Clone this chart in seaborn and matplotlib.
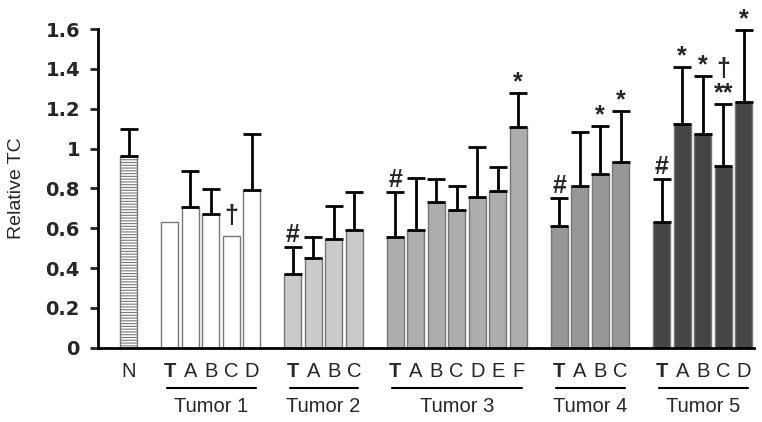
import numpy as np
import pandas as pd
import matplotlib
matplotlib.use("Agg")
import matplotlib.pyplot as plt
import matplotlib.transforms as mtransforms
import seaborn as sns

nan = np.nan

# bar letters and values
groups = ["N", "Tumor 1", "Tumor 2", "Tumor 3", "Tumor 4", "Tumor 5"]
letters = [["N"],
           ["T", "A", "B", "C", "D"],
           ["T", "A", "B", "C"],
           ["T", "A", "B", "C", "D", "E", "F"],
           ["T", "A", "B", "C"],
           ["T", "A", "B", "C", "D"]]
means = [[0.965],
         [0.630, 0.705, 0.672, 0.561, 0.791],
         [0.370, 0.452, 0.545, 0.590],
         [0.556, 0.590, 0.731, 0.690, 0.757, 0.787, 1.107],
         [0.610, 0.814, 0.871, 0.932],
         [0.632, 1.126, 1.074, 0.915, 1.233]]
sds = [[0.135],
       [nan, 0.183, 0.124, nan, 0.283],
       [0.135, 0.103, 0.169, 0.194],
       [0.226, 0.263, 0.118, 0.124, 0.253, 0.121, 0.174],
       [0.142, 0.270, 0.243, 0.257],
       [0.217, 0.286, 0.290, 0.311, 0.362]]
marks = [[""],
         ["", "", "", "\u2020", ""],
         ["#", "", "", ""],
         ["#", "", "", "", "", "", "*"],
         ["#", "", "*", "*"],
         ["#", "*", "*", "\u2020\n**", "*"]]
colors = ["white", "white", "#cacaca", "#adadad", "#979797", "#454545"]

sns.set_style("white")
plt.rcParams["font.family"] = ["Liberation Sans", "DejaVu Sans"]
plt.rcParams["hatch.linewidth"] = 0.8

# one empty slot between groups
rows = []
pos = 0
for g, let, m, s, mk in zip(groups, letters, means, sds, marks):
    for i in range(len(let)):
        rows.append({"pos": pos, "group": g, "letter": let[i], "mean": m[i],
                     "sd": s[i], "mark": mk[i]})
        pos += 1
    pos += 1
df = pd.DataFrame(rows)

fig = plt.figure(figsize=(7.62, 4.22), dpi=100)
ax = fig.add_axes([0.1286, 0.176, 0.8609, 0.755])

sns.barplot(data=df, x="pos", y="mean", hue="group", palette=colors,
            native_scale=True, dodge=False, width=0.83, errorbar=None,
            edgecolor="#777777", linewidth=1, legend=False, ax=ax)

for p in ax.patches:
    if abs(p.get_x() + p.get_width() / 2) < 0.01:
        p.set_hatch("------")

ok = df["sd"].notna()
ax.errorbar(df.loc[ok, "pos"], df.loc[ok, "mean"],
            yerr=[np.zeros(ok.sum()), df.loc[ok, "sd"]], fmt="none",
            ecolor="black", elinewidth=2, capsize=6.5, capthick=2, zorder=3)

ax.set_xlim(-1.5, 30.5)
ax.set_ylim(0, 1.6)
yt = np.arange(0, 1.61, 0.2)
ax.set_yticks(yt, [f"{v:g}" for v in np.round(yt, 1)])
ax.tick_params(axis="y", direction="out", length=6, width=2, pad=7, left=True)
for t in ax.get_yticklabels():
    t.set_fontfamily("DejaVu Sans")
    t.set_fontweight("bold")
    t.set_fontsize(14)

ax.set_xticks(df["pos"], df["letter"])
ax.tick_params(axis="x", length=0, pad=10, labelsize=14.5)
for t in ax.get_xticklabels():
    if t.get_text() == "T":
        t.set_fontweight("bold")

ax.set_xlabel("")
ax.set_ylabel("Relative TC", fontsize=14)
ax.yaxis.set_label_coords(-0.112, 0.5)

sns.despine(ax=ax)
for side in ["left", "bottom"]:
    ax.spines[side].set_linewidth(2)
    ax.spines[side].set_color("black")

# significance marks
for _, r in df[df["mark"] != ""].iterrows():
    base = r["mean"] + (0 if np.isnan(r["sd"]) else r["sd"])
    off = 0 if "#" in r["mark"] else (6 if r["mark"] == "\u2020" else -1)
    ax.annotate(r["mark"], (r["pos"], base), xytext=(0, off),
                textcoords="offset points", ha="center", va="bottom",
                fontsize=18, fontweight="bold", linespacing=1.0,
                annotation_clip=False)

# group underlines and names
trans = mtransforms.blended_transform_factory(ax.transData, ax.transAxes)
for g in groups[1:]:
    sub = df[df["group"] == g]
    x0, x1 = sub["pos"].min(), sub["pos"].max()
    ax.plot([x0 - 0.15, x1 + 0.2], [-0.1255, -0.1255], color="black",
            lw=1.5, transform=trans, clip_on=False)
    ax.text((x0 + x1) / 2, -0.186, g, transform=trans, ha="center",
            va="center", fontsize=14.5)

fig.savefig("out.png", dpi=100)
